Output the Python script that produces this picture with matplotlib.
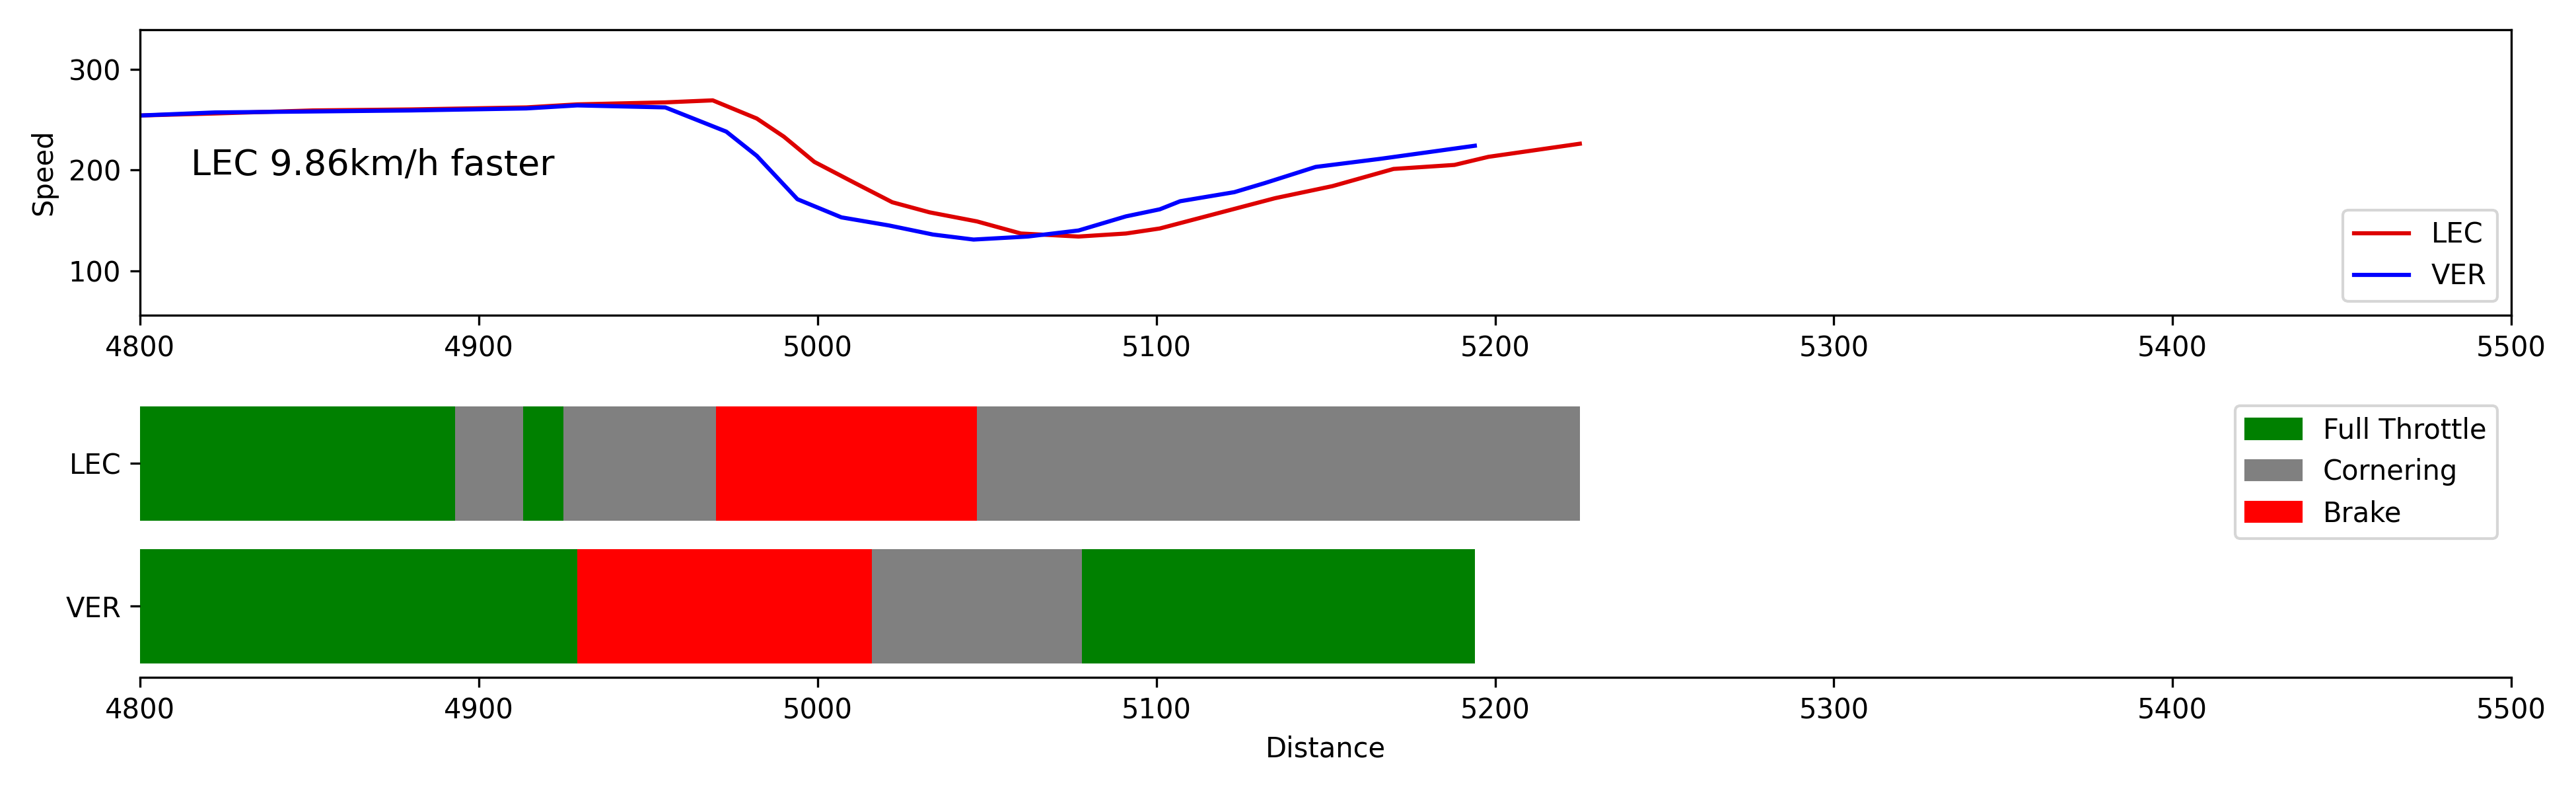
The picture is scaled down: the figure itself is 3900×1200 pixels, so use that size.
import matplotlib.pyplot as plt
from matplotlib.patches import Patch

lec_dist = [4800, 4822, 4851, 4880, 4914, 4929, 4955, 4969, 4982, 4990, 4999, 5011, 5022, 5033,
            5047, 5060, 5077, 5091, 5101, 5118, 5135, 5152, 5170, 5188, 5198, 5225]
lec_speed = [254, 256, 259, 260, 262, 265, 267, 269, 251, 233, 208, 187, 168, 158,
             149, 137, 134, 137, 142, 157, 172, 184, 201, 205, 213, 226]
ver_dist = [4800, 4822, 4880, 4914, 4929, 4955, 4973, 4982, 4994, 5007, 5021, 5034, 5046,
            5062, 5077, 5091, 5101, 5107, 5123, 5132, 5147, 5166, 5194]
ver_speed = [254, 257, 259, 261, 264, 262, 238, 214, 171, 153, 145, 136, 131,
             134, 140, 154, 161, 169, 178, 187, 203, 211, 224]

drivers = ['LEC', 'VER']
# segments: (start, end, action)
lec_segments = [(4800, 4893, 'Full Throttle'), (4893, 4913, 'Cornering'), (4913, 4925, 'Full Throttle'),
                (4925, 4970, 'Cornering'), (4970, 5047, 'Brake'), (5047, 5225, 'Cornering')]
ver_segments = [(4800, 4929, 'Full Throttle'), (4929, 5016, 'Brake'), (5016, 5078, 'Cornering'),
                (5078, 5194, 'Full Throttle')]
colors = {'Full Throttle': 'green', 'Cornering': 'grey', 'Brake': 'red'}

fig, (ax1, ax2) = plt.subplots(2, 1, figsize=(13, 4), dpi=300)

ax1.plot(lec_dist, lec_speed, color='#dd0000', label='LEC')
ax1.plot(ver_dist, ver_speed, color='blue', label='VER')
ax1.set_xlim(4800, 5500)
ax1.set_ylim(56, 339)
ax1.set_ylabel('Speed')
ax1.text(4815, 205, 'LEC 9.86km/h faster', fontsize=13, va='center')
ax1.legend(loc='lower right')

for y, segs in [(1, lec_segments), (0, ver_segments)]:
    for start, end, action in segs:
        ax2.barh(y, end - start, left=start, color=colors[action], height=0.8)
ax2.set_yticks([1, 0])
ax2.set_yticklabels(drivers)
ax2.set_ylim(-0.5, 1.5)
ax2.set_xlim(4800, 5500)
ax2.set_xlabel('Distance')
handles = [Patch(color=c, label=a) for a, c in colors.items()]
ax2.legend(handles=handles, loc='upper right')
for s in ['top', 'right', 'left']:
    ax2.spines[s].set_visible(False)

plt.tight_layout()
plt.savefig('out.png')
